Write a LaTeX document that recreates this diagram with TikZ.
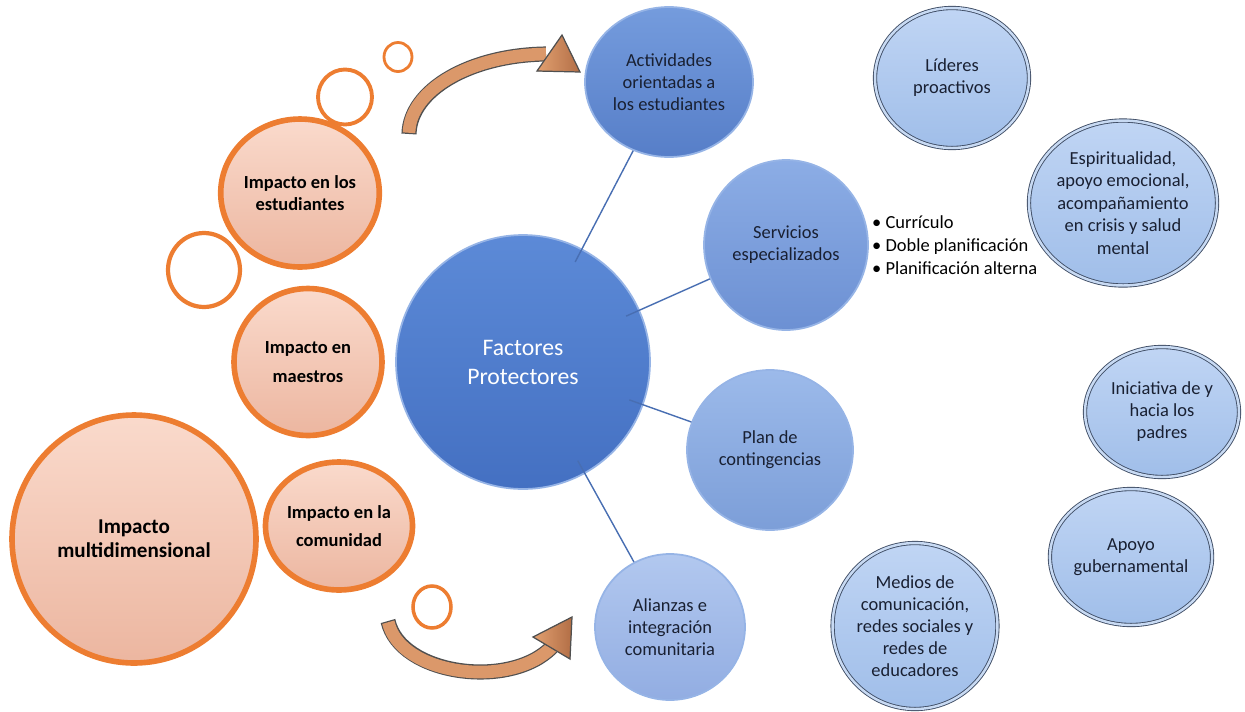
\documentclass[tikz,border=0pt]{standalone}
\usepackage{fontspec}
\setmainfont{Carlito}
\usetikzlibrary{shapes.geometric}

\definecolor{ringorange}{RGB}{237,125,49}
\definecolor{peachtop}{RGB}{250,218,204}
\definecolor{peachbot}{RGB}{236,182,160}
\definecolor{hubtop}{RGB}{92,138,215}
\definecolor{hubbot}{RGB}{68,112,194}
\definecolor{hubrim}{RGB}{150,180,230}
\definecolor{spoketext}{RGB}{25,32,50}
\definecolor{linkblue}{RGB}{72,110,178}
\definecolor{outerrim}{RGB}{62,76,100}
\definecolor{outerband}{RGB}{200,218,243}
\definecolor{arrowlight}{RGB}{226,160,112}
\definecolor{arrowdark}{RGB}{178,110,70}
\definecolor{arrowrim}{RGB}{80,80,80}

\begin{document}
\begin{tikzpicture}[
x=0.02cm, y=-0.02cm,
impact/.style={ellipse,draw=ringorange,line width=3.2pt,top color=peachtop,bottom color=peachbot,
  inner sep=0pt,align=center,text=black,font=\fontsize{10.5}{12.5}\selectfont\bfseries},
bubble/.style={ellipse,draw=ringorange,line width=#1,inner sep=0pt},
hub/.style={circle,draw=hubrim,line width=1pt,top color=hubtop,bottom color=hubbot,
  inner sep=0pt,align=center,text=white,font=\fontsize{13.5}{16.5}\selectfont},
spoke/.style={ellipse,draw=hubrim,line width=1pt,inner sep=0pt,align=center,
  text=spoketext,font=\fontsize{10.5}{12.5}\selectfont},
outer/.style={spoke,draw=outerrim,line width=0.5pt,double=outerband,double distance=1.4pt,
  top color={rgb,255:red,192;green,213;blue,244},bottom color={rgb,255:red,160;green,190;blue,233}},
link/.style={draw=linkblue,line width=0.8pt,shorten <=-0.3cm},
shaft/.style={draw=arrowrim,line width=8.6pt},
shaftfill/.style={draw=arrowlight!85!arrowdark,line width=7.2pt,shorten <=0.7pt},
tip/.style={draw=arrowrim,line width=0.7pt,left color=arrowlight,right color=arrowdark}
]
\useasboundingbox (0,0) rectangle (1245,711);

% impact side
\node[bubble=1.6pt, minimum width=0.56cm, minimum height=0.58cm] (ringa) at (398,57) {};
\node[bubble=2.2pt, minimum width=1.08cm, minimum height=1.1cm] (ringb) at (345,97) {};
\node[bubble=2.4pt, minimum width=1.44cm, minimum height=1.48cm] (ringc) at (204,270) {};
\node[bubble=2pt, minimum width=0.76cm, minimum height=0.84cm] (ringd) at (432,607) {};

\node[impact, minimum width=3cm, minimum height=2.96cm] (estud) at (300,193) {Impacto en los\\estudiantes};
\node[impact, minimum width=2.96cm, minimum height=2.94cm, font=\fontsize{10.5}{16.5}\selectfont\bfseries] (maes) at (308,362) {Impacto en\\maestros};
\node[impact, minimum width=2.52cm, minimum height=2.56cm, font=\fontsize{10.5}{16}\selectfont\bfseries] (comu) at (339,526) {Impacto en la\\comunidad};
\node[impact, minimum width=4.88cm, minimum height=4.96cm, font=\fontsize{12}{13.5}\selectfont\bfseries] (multi) at (134,539) {Impacto\\multidimensional};

% hub and spokes
\node[hub, minimum size=5.08cm] (fp) at (523,362) {Factores\\Protectores};
\node[spoke, minimum width=3.36cm, minimum height=3cm, top color=hubtop!85!white, bottom color=hubbot!90!white] (act) at (669,82) {Actividades\\orientadas a\\los estudiantes};
\node[spoke, minimum width=3.28cm, minimum height=3.4cm, top color={rgb,255:red,140;green,173;blue,229}, bottom color={rgb,255:red,108;green,144;blue,211}] (serv) at (786,245) {Servicios\\especializados};
\node[spoke, minimum width=3.32cm, minimum height=3.2cm, top color={rgb,255:red,156;green,186;blue,234}, bottom color={rgb,255:red,124;green,158;blue,216}] (plan) at (770,450) {Plan de\\contingencias};
\node[spoke, minimum width=3cm, minimum height=2.92cm, top color={rgb,255:red,178;green,200;blue,239}, bottom color={rgb,255:red,146;green,173;blue,226}] (ali) at (670,627) {Alianzas e\\integración\\comunitaria};

\node[anchor=west, align=left, text=black, font=\fontsize{10.5}{13}\selectfont] (servlist) at (866,245)
  {\textbullet\ Currículo\\\textbullet\ Doble planificación\\\textbullet\ Planificación alterna};

% outer group
\node[outer, minimum width=3.08cm, minimum height=2.8cm] (lid) at (952,78) {Líderes\\proactivos};
\node[outer, minimum width=3.32cm, minimum height=3.3cm, font=\fontsize{10.5}{12.8}\selectfont] (esp) at (1123,203) {Espiritualidad,\\apoyo emocional,\\acompañamiento\\en crisis y salud\\mental};
\node[outer, minimum width=3.08cm, minimum height=2.6cm] (ini) at (1162,412) {Iniciativa de y\\hacia los\\padres};
\node[outer, minimum width=3.04cm, minimum height=2.72cm] (apo) at (1131,557) {Apoyo\\gubernamental};
\node[outer, minimum width=3.28cm, minimum height=3.32cm] (med) at (915,626) {Medios de\\comunicación,\\redes sociales y\\redes de\\educadores};

\draw[link] (fp) -- (act);
\draw[link] (fp) -- (serv);
\draw[link] (fp) -- (plan);
\draw[link] (fp) -- (ali);

% curved arrows
\coordinate (uptail) at (409,134);
\coordinate (upend) at (546,54);
\draw[shaft] (uptail) .. controls (410,90) and (470,55) .. (upend);
\draw[shaftfill] (uptail) .. controls (410,90) and (470,55) .. (upend);
\filldraw[tip] (537,71) -- (562,35) -- (580,72) -- cycle;

\coordinate (lowtail) at (388,621);
\coordinate (lowend) at (552,647);
\draw[shaft] (lowtail) .. controls (400,675) and (510,690) .. (lowend);
\draw[shaftfill] (lowtail) .. controls (400,675) and (510,690) .. (lowend);
\filldraw[tip] (533,637) -- (572,617) -- (570,659) -- cycle;

\end{tikzpicture}
\end{document}
